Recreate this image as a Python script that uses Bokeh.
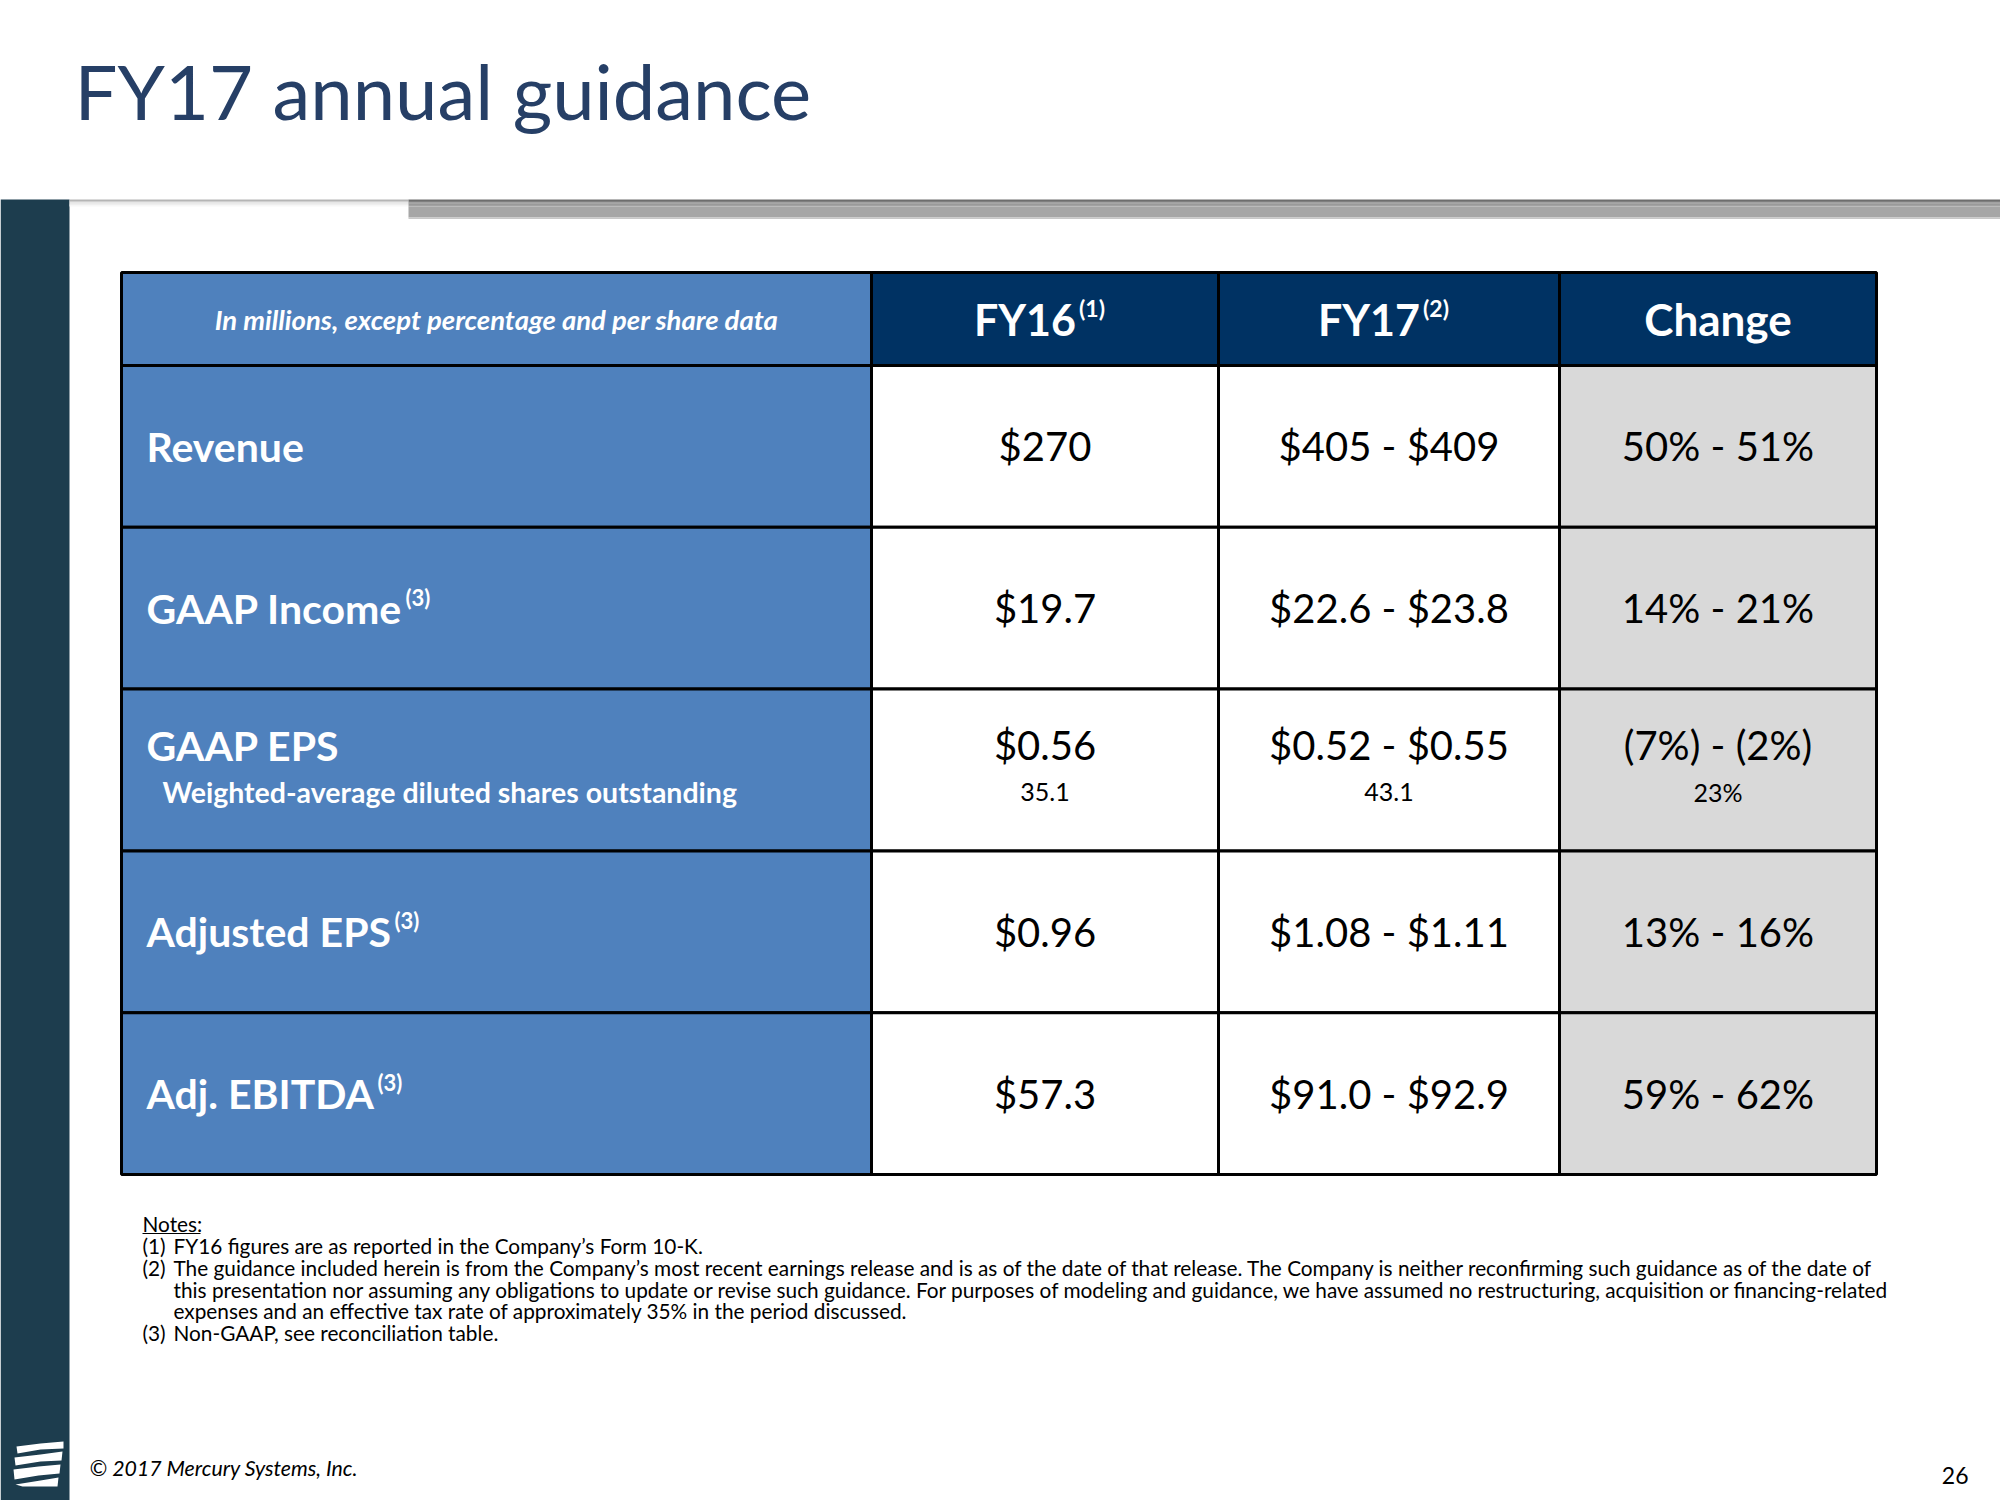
from bokeh.plotting import figure
from bokeh.models import ColumnDataSource, Range1d
from bokeh.core.properties import value
from bokeh.embed import file_html
from bokeh.resources import INLINE

# ---------------- data ----------------
title = "FY17 annual guidance"
header_caption = "In millions, except percentage and per share data"
headers = ["FY16", "FY17", "Change"]
header_notes = ["(1)", "(2)", ""]

labels = ["Revenue", "GAAP Income", "GAAP EPS", "Adjusted EPS", "Adj. EBITDA"]
label_notes = ["", "(3)", "", "(3)", "(3)"]
fy16 = ["$270", "$19.7", "$0.56", "$0.96", "$57.3"]
fy17 = ["$405 - $409", "$22.6 - $23.8", "$0.52 - $0.55", "$1.08 - $1.11", "$91.0 - $92.9"]
change = ["50% - 51%", "14% - 21%", "(7%) - (2%)", "13% - 16%", "59% - 62%"]

shares_label = "Weighted-average diluted shares outstanding"
shares = ["35.1", "43.1", "23%"]   # FY16, FY17, Change

notes_title = "Notes:"
notes_markers = ["(1)", "(2)", "", "", "(3)"]
notes_lines = [
    "FY16 figures are as reported in the Company\u2019s Form 10-K.",
    "The guidance included herein is from the Company\u2019s most recent earnings release and is as of the date of that release. The Company is neither reconfirming such guidance as of the date of",
    "this presentation nor assuming any obligations to update or revise such guidance. For purposes of modeling and guidance, we have assumed no restructuring, acquisition or financing-related",
    "expenses and an effective tax rate of approximately 35% in the period discussed.",
    "Non-GAAP, see reconciliation table.",
]
footer = "\u00a9 2017 Mercury Systems, Inc."
page_number = "26"

# ---------------- layout ----------------
FONT = "Lato"
W, H = 2000, 1500
p = figure(width=W, height=H, x_range=Range1d(0, W), y_range=Range1d(H, 0),
           output_backend="svg", toolbar_location=None, min_border=0,
           x_axis_type=None, y_axis_type=None)
p.grid.visible = False
p.outline_line_color = None
p.background_fill_color = "white"
p.border_fill_color = "white"

# sidebar
p.quad(left=[0], right=[69], top=[199], bottom=[1500], fill_color="#1D3D4E", line_color=None)
# shadow under title band
shadow_cols = ["#b5b5b5", "#cfcfcf", "#e2e2e2", "#efefef", "#f7f7f7"]
for i, c in enumerate(shadow_cols):
    p.quad(left=[69], right=[408], top=[199 + i * 1.4], bottom=[199 + (i + 1) * 1.4], fill_color=c, line_color=None)
# gray bar
bar_cols = ["#6e6e6e", "#7f7f7f", "#8e8e8e", "#9a9a9a", "#a2a2a2"]
for i, c in enumerate(bar_cols):
    p.quad(left=[408], right=[2000], top=[199 + i * 1.4], bottom=[199 + (i + 1) * 1.4], fill_color=c, line_color=None)
p.quad(left=[408], right=[2000], top=[206], bottom=[217], fill_color="#a6a6a6", line_color=None)
p.quad(left=[408], right=[2000], top=[217], bottom=[218.5], fill_color="#c8c8c8", line_color=None)

# logo (white fanned bands)
logo_xs = [[16, 40, 63, 63, 40, 17], [14, 40, 62, 61, 40, 15], [13, 38, 60, 59, 38, 14], [15, 40, 58, 57, 22]]
logo_ys = [[1446, 1443, 1441, 1448, 1449, 1453], [1457, 1454, 1451, 1460, 1461, 1465],
           [1469, 1466, 1464, 1473, 1475, 1479], [1484, 1480, 1477, 1486, 1486]]
p.patches(xs=logo_xs, ys=logo_ys, fill_color="white", line_color=None)

# title
p.text(x=[74], y=[90], text=[title], text_font=value(FONT), text_font_size="76px",
       text_color="#263F66", text_baseline="middle", text_align="left")

# table geometry
col_edges = [121, 871, 1218, 1559, 1876]
head_top, head_bot = 272, 365
row_h = (1174 - 365) / 5
col_centers = [(col_edges[i] + col_edges[i + 1]) / 2 for i in range(4)]

# header cells
hd = dict(left=col_edges[:-1], right=col_edges[1:], top=[head_top] * 4, bottom=[head_bot] * 4,
          color=["#4F81BD", "#003263", "#003263", "#003263"])
p.quad(source=ColumnDataSource(hd), left="left", right="right", top="top", bottom="bottom",
       fill_color="color", line_color="black", line_width=3)

# body cells
body_fill = ["#4F81BD", "white", "white", "#D9D9D9"]
L, R, T, B, C = [], [], [], [], []
for r in range(len(labels)):
    for c in range(4):
        L.append(col_edges[c]); R.append(col_edges[c + 1])
        T.append(head_bot + r * row_h); B.append(head_bot + (r + 1) * row_h)
        C.append(body_fill[c])
p.quad(source=ColumnDataSource(dict(left=L, right=R, top=T, bottom=B, color=C)),
       left="left", right="right", top="top", bottom="bottom", fill_color="color",
       line_color="black", line_width=3)

# header texts
hy = (head_top + head_bot) / 2
p.text(x=[col_centers[0]], y=[hy], text=[header_caption], text_font=value(FONT),
       text_font_style="bold italic", text_font_size="27.5px", text_color="white",
       text_align="center", text_baseline="middle")
sup_dx = 31
hx = [col_centers[1] + sup_dx, col_centers[2] + sup_dx]
p.text(x=hx, y=[hy] * 2, text=headers[:2], text_font=value(FONT), text_font_style="bold",
       text_font_size="43px", text_color="white", text_align="right", text_baseline="middle")
p.text(x=[x + 3 for x in hx], y=[hy - 11] * 2, text=header_notes[:2], text_font=value(FONT),
       text_font_style="bold", text_font_size="23px", text_color="white", text_align="left",
       text_baseline="middle")
p.text(x=[col_centers[3]], y=[hy], text=[headers[2]], text_font=value(FONT), text_font_style="bold",
       text_font_size="44px", text_color="white", text_align="center", text_baseline="middle")

# row texts
row_c = [head_bot + (r + 0.5) * row_h for r in range(len(labels))]
main_y = [y if labels[i] != "GAAP EPS" else y - 25 for i, y in enumerate(row_c)]
p.text(x=[146] * 5, y=main_y, text=labels, text_font=value(FONT), text_font_style="bold",
       text_font_size="41px", text_color="white", text_align="left", text_baseline="middle")
sup_x = [0, 405, 0, 394, 377]
sx = [sup_x[i] for i in range(5) if label_notes[i]]
sy = [main_y[i] - 11 for i in range(5) if label_notes[i]]
st = [label_notes[i] for i in range(5) if label_notes[i]]
p.text(x=sx, y=sy, text=st, text_font=value(FONT), text_font_style="bold", text_font_size="22px",
       text_color="white", text_align="left", text_baseline="middle")

for ci, vals in zip([1, 2, 3], [fy16, fy17, change]):
    p.text(x=[col_centers[ci]] * 5, y=main_y, text=vals, text_font=value(FONT),
           text_font_size="40px", text_color="black", text_align="center", text_baseline="middle")

# shares sub-row
eps_i = labels.index("GAAP EPS")
sub_y = row_c[eps_i] + 22
p.text(x=[162], y=[sub_y], text=[shares_label], text_font=value(FONT), text_font_style="bold",
       text_font_size="28.5px", text_color="white", text_align="left", text_baseline="middle")
p.text(x=col_centers[1:], y=[sub_y] * 3, text=shares, text_font=value(FONT),
       text_font_size="25px", text_color="black", text_align="center", text_baseline="middle")

# notes
NFS = "20.8px"
p.text(x=[142], y=[1223], text=[notes_title], text_font=value(FONT), text_font_size=NFS,
       text_color="black", text_align="left", text_baseline="middle")
p.segment(x0=[142], y0=[1233], x1=[200], y1=[1233], line_color="black", line_width=1.2)
note_y = [1245 + i * 21.8 for i in range(len(notes_lines))]
p.text(x=[142] * 5, y=note_y, text=notes_markers, text_font=value(FONT), text_font_size=NFS,
       text_color="black", text_align="left", text_baseline="middle")
p.text(x=[173] * 5, y=note_y, text=notes_lines, text_font=value(FONT), text_font_size=NFS,
       text_color="black", text_align="left", text_baseline="middle")

# footer
p.text(x=[89], y=[1467], text=[footer], text_font=value(FONT), text_font_style="italic",
       text_font_size="21.3px", text_color="black", text_align="left", text_baseline="middle")
p.text(x=[1968], y=[1475], text=[page_number], text_font=value(FONT), text_font_size="23px",
       text_color="black", text_align="right", text_baseline="middle")

open("out.html", "w").write(file_html(p, INLINE))
